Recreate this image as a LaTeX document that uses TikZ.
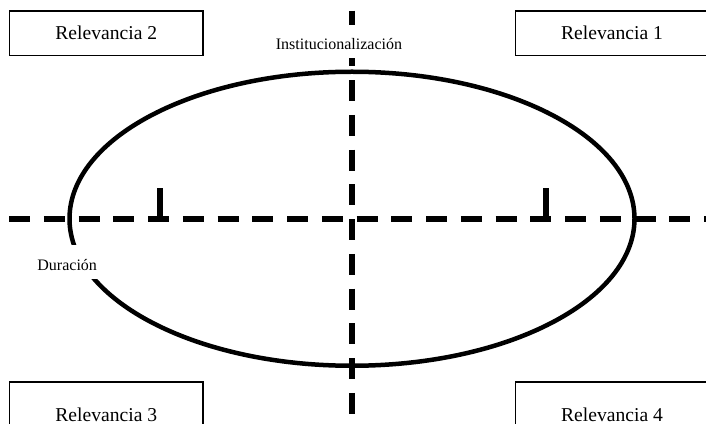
\documentclass[tikz,border=0pt]{standalone}
\usepackage{fontspec}
\setmainfont{Liberation Serif}

\tikzset{
  relbox/.style={draw, line width=0.75pt, minimum width=96.75pt, minimum height=22.25pt,
    inner sep=0pt, font=\fontsize{9.8}{12}\selectfont},
  axisline/.style={line width=3pt, dash pattern=on 10.5pt off 6.875pt},
  axislabel/.style={fill=white, inner ysep=0pt, inner xsep=4pt, text depth=0pt,
    font=\fontsize{8}{10}\selectfont},
}

\begin{document}
\begin{tikzpicture}[x=0.5pt, y=0.5pt]
\clip (0,0) rectangle (706,423);

% Axis end points and centre
\coordinate (axisW) at (9,204);
\coordinate (axisE) at (740,204);
\coordinate (axisN) at (352,412.3);
\coordinate (axisS) at (352,-30);
\coordinate (centre) at (352,204.25);
\coordinate (tickL) at (159.5,204);
\coordinate (tickR) at (545.5,204);

% Draw the ellipse
\draw[line width=2.25pt] (centre) ellipse [x radius=282.5, y radius=147];

% Draw the dashed axes and the two marks
\draw[axisline] (axisW) -- (axisE);
\draw[axisline] (axisN) -- (axisS);
\draw[line width=3pt] (tickL) -- ++(0,31);
\draw[line width=3pt] (tickR) -- ++(0,31);

% Axis labels
\node[axislabel, text height=8.5pt, minimum height=16.5pt, inner xsep=2pt] (instlabel) at (339,381.5) {Institucionalización};
\node[axislabel, text height=9pt, minimum height=17pt] (durlabel) at (67.2,161) {Duración};

% Corner boxes
\node[relbox] (rel2) at (106.25,389.75) {Relevancia 2};
\node[relbox] (rel1) at (612,389.75) {Relevancia 1};
\node[relbox, minimum height=33pt] (rel3) at (106.25,8) {Relevancia 3};
\node[relbox, minimum height=33pt] (rel4) at (612,8) {Relevancia 4};
\end{tikzpicture}
\end{document}
